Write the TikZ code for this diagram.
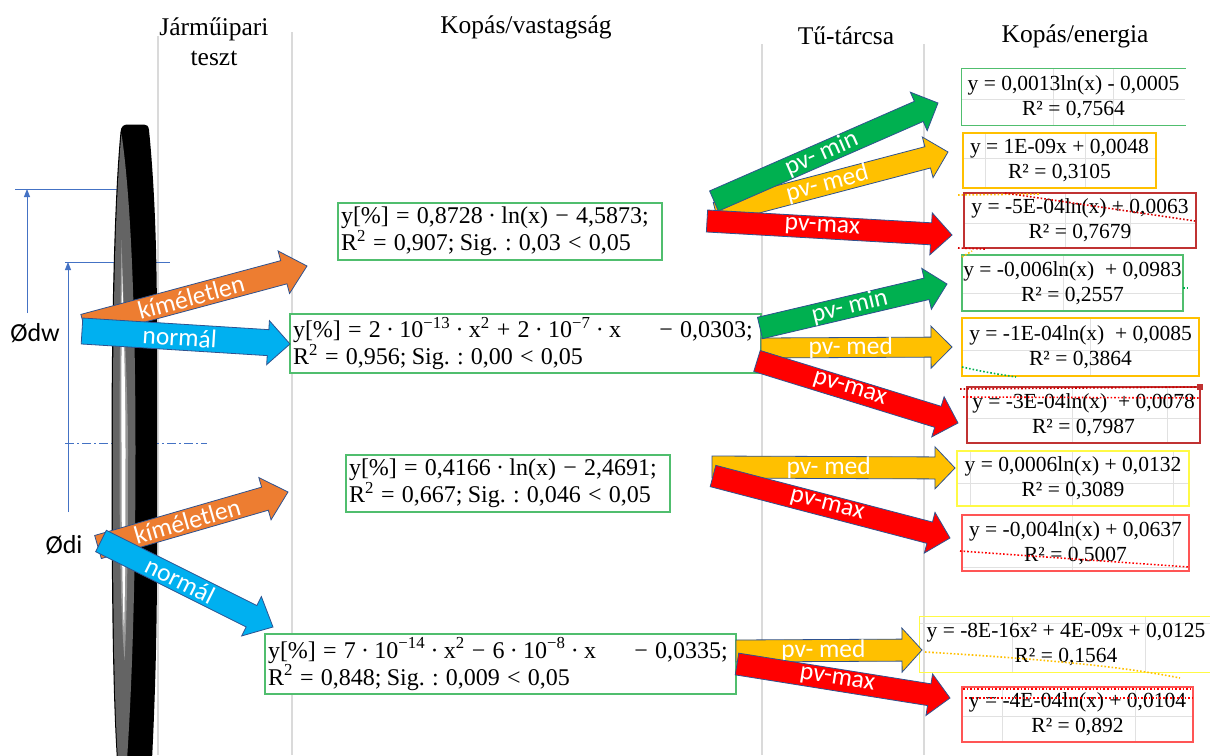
\documentclass[tikz,border=0pt]{standalone}
\usepackage{fontspec}
\setmainfont{Liberation Serif}
\newfontfamily\labelsans{Carlito}
\usetikzlibrary{calc,arrows.meta}

\definecolor{sepgray}{RGB}{218,218,218}
\definecolor{gridgray}{RGB}{225,225,225}
\definecolor{dimblue}{RGB}{68,114,196}
\definecolor{arrowedge}{RGB}{47,82,143}
\definecolor{aorange}{RGB}{237,125,49}
\definecolor{ablue}{RGB}{0,176,240}
\definecolor{agreen}{RGB}{0,176,80}
\definecolor{agold}{RGB}{255,192,0}
\definecolor{ared}{RGB}{255,0,0}
\definecolor{boxgreen}{RGB}{80,190,110}
\definecolor{boxgold}{RGB}{255,192,0}
\definecolor{boxdarkred}{RGB}{192,50,50}
\definecolor{boxyellow}{RGB}{255,250,70}
\definecolor{boxlightred}{RGB}{255,85,85}
\definecolor{diskgray}{RGB}{100,100,100}
\definecolor{disklight}{RGB}{150,150,150}

% spacing and exponents inside the regression formulas
\newcommand{\rsp}{\hspace{0.3em}}
\newcommand{\dsp}{\hspace{0.22em}}
\newcommand{\expo}[1]{\textsuperscript{#1}}

\tikzset{
  sepline/.style={draw=sepgray, line width=1.3pt},
  gridline/.style={draw=gridgray, line width=0.9pt},
  dimline/.style={draw=dimblue, line width=0.9pt},
  arrowline/.style={draw=arrowedge, line width=0.8pt, line join=miter},
  arrowlabel/.style={text=white, font=\labelsans\fontsize{25.5pt}{28pt}\selectfont, inner sep=0pt},
  header/.style={font=\fontsize{25.5pt}{30pt}\selectfont, align=center},
  dimlabel/.style={font=\labelsans\fontsize{26pt}{30pt}\selectfont, inner sep=0pt},
  fitbox/.style={draw=boxgreen, line width=1.3pt, fill=white, align=left,
    inner xsep=3pt, inner ysep=2pt, font=\fontsize{24pt}{27pt}\selectfont},
  energybox/.style={line width=1.3pt, align=center, inner sep=0pt,
    font=\fontsize{21.5pt}{25pt}\selectfont},
  trend/.style={dotted, line width=1.6pt},
}

% block arrow: tail, tip, half shaft width, half head width, head length, fill, label, label position
\newcommand{\blockarrow}[8]{%
  \draw[arrowline, fill=#6]
    ($(#1)!#3!90:(#2)$)
    -- ($(#2)!#5!(#1)!#3!-90:(#1)$)
    -- ($(#2)!#5!(#1)!#4!-90:(#1)$)
    -- (#2)
    -- ($(#2)!#5!(#1)!#4!90:(#1)$)
    -- ($(#2)!#5!(#1)!#3!90:(#1)$)
    -- ($(#1)!#3!-90:(#2)$) -- cycle;
  \path (#1) -- (#2) node[arrowlabel, sloped, pos=#8] {#7};
}

\begin{document}
\begin{tikzpicture}[x=1pt, y=-1pt]
\useasboundingbox[fill=white] (0,0) rectangle (1210,755);

% column separators
\coordinate (s1a) at (158,36);  \coordinate (s1b) at (158,755);
\coordinate (s2a) at (292,32);  \coordinate (s2b) at (292,755);
\coordinate (s3a) at (762,44);  \coordinate (s3b) at (762,755);
\coordinate (s4a) at (924,44);  \coordinate (s4b) at (924,755);
\draw[sepline] (s1a) -- (s1b);
\draw[sepline] (s2a) -- (s2b);
\draw[sepline] (s3a) -- (s3b);
\draw[sepline] (s4a) -- (s4b);

% column headings
\node[header] (hjarmu) at (214,42) {Járműipari\\teszt};
\node[header] (hkopv) at (526,27) {Kopás/vastagság};
\node[header] (htu) at (846,36) {Tű-tárcsa};
\node[header] (hkope) at (1075,36) {Kopás/energia};

% diameter dimensions
\coordinate (dwext1) at (15,189);  \coordinate (dwext2) at (118,189);
\coordinate (dwlow) at (27,313);   \coordinate (dwtop) at (27,189);
\coordinate (diext1) at (65,262);  \coordinate (diext2) at (170,262);
\coordinate (dilow) at (68,512);   \coordinate (ditop) at (68,262);
\coordinate (axis1) at (65,443);   \coordinate (axis2) at (207,443);
\draw[dimline] (dwext1) -- (dwext2);
\draw[dimline, -{Triangle[length=8pt,width=6pt]}] (dwlow) -- (dwtop);
\draw[dimline] (diext1) -- (diext2);
\draw[dimline, -{Triangle[length=8pt,width=6pt]}] (dilow) -- (ditop);
\draw[dimline, dash pattern=on 9pt off 3pt on 2pt off 3pt] (axis1) -- (axis2);
\node[dimlabel] (ldw) at (35,333) {Ødw};
\node[dimlabel] (ldi) at (64,545) {Ødi};

% the disc seen from its edge
\fill[black] (120.5,132) .. controls (121,126) and (124,124.5) .. (128,124.5)
  -- (144,124.5) .. controls (147,124.5) and (148.5,126) .. (149,130)
  .. controls (153,170) and (157,230) .. (157,330) -- (157,560)
  .. controls (157,650) and (154,720) .. (152,760) -- (117,760)
  .. controls (113,700) and (111.5,600) .. (111.5,450)
  .. controls (111.5,300) and (115,190) .. (120.5,132) -- cycle;
\fill[diskgray] (121.5,134) .. controls (116,190) and (112.8,300) .. (112.8,450)
  .. controls (112.8,600) and (114,700) .. (118,760) -- (127,760)
  .. controls (131,700) and (135.5,600) .. (135.5,450)
  .. controls (135.5,300) and (130,190) .. (121.5,134) -- cycle;
\fill[disklight] (121.5,240) .. controls (124,320) and (128,400) .. (128,450)
  .. controls (128,550) and (127,620) .. (124.5,660)
  .. controls (121,620) and (119.5,550) .. (119.5,450)
  .. controls (119.5,400) and (120,320) .. (121.5,240) -- cycle;
\fill[white] (122,268) .. controls (124,330) and (125.5,400) .. (125.5,450)
  .. controls (125.5,540) and (125,600) .. (124,632)
  .. controls (122.5,600) and (121.5,540) .. (121.5,450)
  .. controls (121.5,400) and (121.3,330) .. (122,268) -- cycle;

% regression boxes, wear / thickness
\node[fitbox, text width=318pt, minimum height=57pt] (b1) at (500,231.5)
  {y[\%]\rsp=\rsp0,8728\dsp·\dsp ln(x)\rsp−\rsp4,5873;\\
   R\expo{2}\rsp=\rsp0,907;\dsp Sig.\rsp:\rsp0,03\rsp<\rsp0,05};
\node[fitbox, text width=465pt, minimum height=59pt] (b2) at (525.5,343.5)
  {y[\%]\rsp=\rsp2\dsp·\dsp10\expo{−13}\dsp·\dsp x\expo{2}\rsp+\rsp2\dsp·\dsp10\expo{−7}\dsp·\dsp x\hspace{1.6em}−\rsp0,0303;\\
   R\expo{2}\rsp=\rsp0,956;\dsp Sig.\rsp:\rsp0,00\rsp<\rsp0,05};
\node[fitbox, text width=318pt, minimum height=57pt] (b3) at (508,483.5)
  {y[\%]\rsp=\rsp0,4166\dsp·\dsp ln(x)\rsp−\rsp2,4691;\\
   R\expo{2}\rsp=\rsp0,667;\dsp Sig.\rsp:\rsp0,046\rsp<\rsp0,05};
\node[fitbox, text width=465pt, minimum height=60pt] (b4) at (500.5,664)
  {y[\%]\rsp=\rsp7\dsp·\dsp10\expo{−14}\dsp·\dsp x\expo{2}\rsp−\rsp6\dsp·\dsp10\expo{−8}\dsp·\dsp x\hspace{1.6em}−\rsp0,0335;\\
   R\expo{2}\rsp=\rsp0,848;\dsp Sig.\rsp:\rsp0,009\rsp<\rsp0,05};

% worksheet cell lines behind the energy boxes
\draw[gridline] (962,99) -- (1185,99);   \draw[gridline] (1053,69) -- (1053,125); \draw[gridline] (1113,69) -- (1113,125);
\draw[gridline] (963,158) -- (1156,158); \draw[gridline] (985,133) -- (985,188); \draw[gridline] (1085,133) -- (1085,188);
\draw[gridline] (964,223) -- (1196,223); \draw[gridline] (1065,193) -- (1065,248); \draw[gridline] (1130,193) -- (1130,248);
\draw[gridline] (962,293) -- (1183,293); \draw[gridline] (1063,255) -- (1063,311);
\draw[gridline] (962,350) -- (1199,350); \draw[gridline] (1090,318) -- (1090,376);
\draw[gridline] (967,418) -- (1200,418); \draw[gridline] (1072,387) -- (1072,443); \draw[gridline] (1167,387) -- (1167,443);
\draw[gridline] (957,483) -- (1189,483); \draw[gridline] (970,451) -- (970,506); \draw[gridline] (1072,451) -- (1072,506); \draw[gridline] (1173,451) -- (1173,506);
\draw[gridline] (962,567) -- (1189,567); \draw[gridline] (1072,515) -- (1072,571); \draw[gridline] (1173,515) -- (1173,571);
\draw[gridline] (920,623) -- (1210,623); \draw[gridline] (1012,617) -- (1012,672); \draw[gridline] (1145,617) -- (1145,672);
\draw[gridline] (962,716) -- (1193,716); \draw[gridline] (1002,687) -- (1002,742); \draw[gridline] (1135,687) -- (1135,742);

% regression boxes, wear / energy
\node[energybox, minimum width=223pt, minimum height=56pt] (r1) at (1073.5,97)
  {y = 0,0013ln(x) - 0,0005\\R² = 0,7564};
\draw[boxgreen, line width=1.3pt] (r1.north east) -- (r1.north west) -- (r1.south west) -- (r1.south east);
\node[energybox, draw=boxgold, minimum width=193pt, minimum height=55pt] (r2) at (1059.5,160.5)
  {y = 1E-09x + 0,0048\\R² = 0,3105};
\node[energybox, draw=boxdarkred, minimum width=232pt, minimum height=55pt] (r3) at (1080,220.5)
  {y = -5E-04ln(x) + 0,0063\\R² = 0,7679};
\node[energybox, draw=boxgreen, minimum width=221pt, minimum height=56pt] (r4) at (1072.5,283)
  {y = -0,006ln(x)\enspace+ 0,0983\\R² = 0,2557};
\node[energybox, draw=boxgold, minimum width=237pt, minimum height=58pt] (r5) at (1080.5,347)
  {y = -1E-04ln(x)\enspace+ 0,0085\\R² = 0,3864};
\node[energybox, draw=boxdarkred, minimum width=233pt, minimum height=56pt] (r6) at (1083.5,415)
  {y = -3E-04ln(x)\enspace+ 0,0078\\R² = 0,7987};
\node[energybox, draw=boxyellow, minimum width=232pt, minimum height=55pt] (r7) at (1073,478.5)
  {y = 0,0006ln(x) + 0,0132\\R² = 0,3089};
\node[energybox, draw=boxlightred, minimum width=227pt, minimum height=56pt] (r8) at (1075.5,543)
  {y = -0,004ln(x) + 0,0637\\R² = 0,5007};
\node[energybox, minimum width=292pt, minimum height=55pt] (r9) at (1066,644.5)
  {y = -8E-16x² + 4E-09x + 0,0125\\R² = 0,1564};
\draw[boxyellow, line width=1.3pt] (r9.north east) -- (r9.north west) -- (r9.south west) -- (r9.south east);
\node[energybox, draw=boxlightred, minimum width=231pt, minimum height=55pt] (r10) at (1077.5,714.5)
  {y = -4E-04ln(x) + 0,0104\\R² = 0,892};

% trend line fragments
\draw[trend, boxgold] (958,195) -- (1040,194);
\draw[trend, ared!85!black] (1005,193) -- (1195,221);
\draw[trend, ared!85!black] (958,248) -- (985,249);
\draw[trend, boxgold] (962,257) -- (972,251);
\draw[trend, agreen] (1183,288) -- (1189,288);
\draw[trend, agreen] (962,367) .. controls (985,372) .. (1016,377);
\draw[trend, ared!80!black] (960,389) -- (1200,387);
\fill[boxdarkred] (1197,384) rectangle (1203,390);
\draw[trend, ared] (963,397) -- (1200,398);
\draw[trend, ared] (960,551) -- (1189,567);
\draw[trend, boxgold] (925,652) .. controls (1060,660) and (1130,668) .. (1180,678);
\draw[trend, ared] (963,689) -- (1193,689);
\draw[trend, ared] (965,698) -- (1193,698);

% arrow ends
\coordinate (o1t) at (84,326);  \coordinate (o1h) at (307,266);
\coordinate (n1t) at (82,331);  \coordinate (n1h) at (290,344);
\coordinate (o2t) at (98,547);  \coordinate (o2h) at (288,492);
\coordinate (n2t) at (101,541); \coordinate (n2h) at (273,627);
\coordinate (g1t) at (714,201); \coordinate (g1h) at (938,103);
\coordinate (y1t) at (716,213); \coordinate (y1h) at (948,152);
\coordinate (m1t) at (707,221); \coordinate (m1h) at (952,235);
\coordinate (g2t) at (760,328); \coordinate (g2h) at (947,284);
\coordinate (y2t) at (761,348); \coordinate (y2h) at (952,347);
\coordinate (m2t) at (757,361); \coordinate (m2h) at (958,423);
\coordinate (y3t) at (712,467); \coordinate (y3h) at (955,468);
\coordinate (m3t) at (713,476); \coordinate (m3h) at (950,538);
\coordinate (y4t) at (736,651); \coordinate (y4h) at (922,650);
\coordinate (m4t) at (737,664); \coordinate (m4h) at (950,698);

% vehicle test loads
\blockarrow{o1t}{o1h}{12pt}{22pt}{24pt}{aorange}{kíméletlen}{0.48}
\blockarrow{n1t}{n1h}{13pt}{22pt}{22pt}{ablue}{normál}{0.47}
\blockarrow{o2t}{o2h}{12pt}{22pt}{24pt}{aorange}{kíméletlen}{0.47}
\blockarrow{n2t}{n2h}{12pt}{22pt}{24pt}{ablue}{normál}{0.46}

% pin-on-disc loads
\blockarrow{y1t}{y1h}{11pt}{21pt}{21pt}{agold}{pv- med}{0.48}
\blockarrow{g1t}{g1h}{11pt}{21pt}{21pt}{agreen}{pv- min}{0.48}
\blockarrow{m1t}{m1h}{11pt}{21pt}{21pt}{ared}{pv-max}{0.47}
\blockarrow{y2t}{y2h}{10pt}{21pt}{21pt}{agold}{pv- med}{0.47}
\blockarrow{g2t}{g2h}{11pt}{21pt}{21pt}{agreen}{pv- min}{0.48}
\blockarrow{m2t}{m2h}{11pt}{21pt}{21pt}{ared}{pv-max}{0.46}
\blockarrow{y3t}{y3h}{11pt}{21pt}{20pt}{agold}{pv- med}{0.48}
\blockarrow{m3t}{m3h}{11pt}{21pt}{21pt}{ared}{pv-max}{0.48}
\blockarrow{y4t}{y4h}{11pt}{22pt}{20pt}{agold}{pv- med}{0.47}
\blockarrow{m4t}{m4h}{11pt}{21pt}{21pt}{ared}{pv-max}{0.47}

\end{tikzpicture}
\end{document}
